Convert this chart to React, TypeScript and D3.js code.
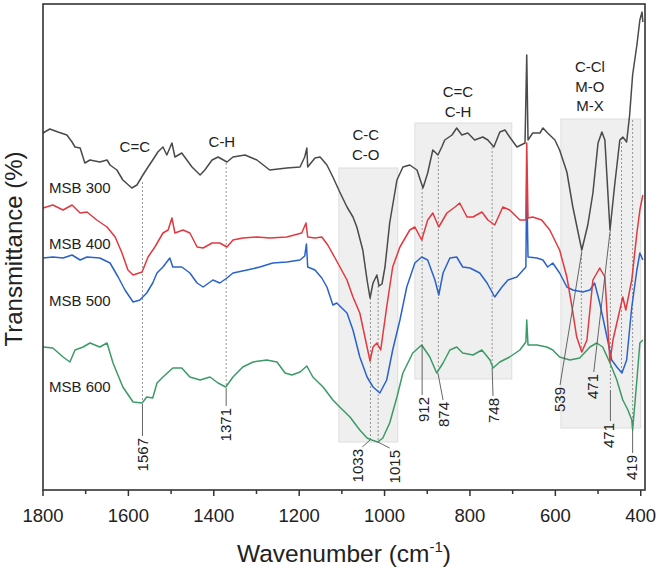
import * as d3 from 'd3';

// FTIR spectra, [wavenumber (cm-1), transmittance (a.u., offset)]
const msb300: [number, number][] = [
  [1800, 178.5], [1784, 180.5], [1765, 179], [1744, 177.5], [1732, 174], [1725, 171.5], [1713, 171],
  [1702, 163.5], [1690, 165], [1667, 164], [1650, 165], [1643, 162.5], [1627, 160], [1613, 155],
  [1592, 151], [1580, 152.5], [1566, 157.5], [1554, 161.5], [1543, 165], [1531, 169], [1519, 171.5],
  [1510, 167.5], [1498, 173.5], [1491, 166.5], [1475, 168.5], [1463, 165], [1451, 161.5], [1432, 157.5],
  [1421, 160], [1404, 165], [1390, 166.5], [1369, 164], [1355, 166.5], [1327, 167.5], [1299, 165],
  [1269, 160], [1229, 161], [1198, 161.5], [1187, 166.5], [1182, 171], [1180, 161.5], [1163, 166],
  [1151, 166.5], [1135, 162.5], [1121, 156.5], [1105, 149], [1088, 141.5], [1074, 136.5], [1065, 131.5],
  [1051, 120], [1041, 105], [1034, 96], [1027, 103.5], [1018, 107.5], [1013, 102], [1006, 103],
  [999, 111.5], [988, 133.5], [971, 155], [957, 161.5], [941, 162.5], [924, 160], [910, 151],
  [899, 158.5], [887, 170], [875, 167.5], [866, 171.5], [859, 175], [842, 177.5], [831, 181],
  [819, 177.5], [805, 178.5], [789, 175], [770, 176.5], [758, 175], [744, 171.5], [730, 179],
  [718, 180], [707, 176.5], [690, 171.5], [671, 173.5], [667, 217.5], [664, 175], [653, 178.5],
  [636, 178.5], [629, 181], [618, 178.5], [601, 175], [590, 170], [573, 159], [559, 141.5],
  [543, 125], [538, 120], [524, 132.5], [512, 148.5], [500, 173.5], [491, 179], [484, 175],
  [472, 130], [461, 152.5], [449, 175], [442, 176.5], [433, 174], [426, 187.5], [419, 207.5],
  [409, 222.5], [402, 235], [397, 239], [395, 234],
];

const msb400: [number, number][] = [
  [1800, 141], [1777, 142.5], [1753, 140], [1732, 142.5], [1713, 138.5], [1697, 139], [1674, 135],
  [1650, 131.5], [1631, 126.5], [1615, 118.5], [1601, 110], [1589, 107.5], [1568, 109], [1554, 116.5],
  [1538, 121.5], [1519, 128.5], [1507, 130], [1498, 136], [1491, 128.5], [1472, 130], [1456, 128.5],
  [1439, 121.5], [1425, 121], [1404, 123.5], [1386, 123.5], [1369, 121.5], [1355, 125], [1332, 126],
  [1299, 126.5], [1269, 126], [1229, 126.5], [1194, 128.5], [1184, 133.5], [1180, 126.5], [1163, 126],
  [1147, 126.5], [1133, 122.5], [1116, 116], [1088, 105], [1074, 96.5], [1058, 88.5], [1046, 76.5],
  [1034, 64.5], [1027, 71.5], [1018, 73.5], [1009, 70], [995, 91.5], [981, 111.5], [964, 121.5],
  [941, 130], [929, 131.5], [913, 125], [899, 135], [887, 138.5], [873, 131.5], [854, 138.5],
  [835, 141.5], [824, 143.5], [807, 136.5], [793, 136.5], [772, 139], [758, 135], [742, 132.5],
  [723, 141.5], [707, 140], [683, 135], [669, 135], [667, 173.5], [664, 136], [653, 136.5],
  [632, 135], [613, 130], [590, 120], [573, 106.5], [561, 91.5], [550, 76.5], [538, 69],
  [526, 75], [512, 105], [496, 111], [484, 106.5], [472, 64], [465, 75], [449, 90], [442, 96.5],
  [435, 90], [421, 105], [409, 128.5], [402, 140], [395, 147.5],
];

const msb500: [number, number][] = [
  [1800, 116], [1777, 116.5], [1753, 116], [1732, 117.5], [1713, 115], [1697, 116.5], [1667, 116],
  [1643, 113.5], [1624, 106.5], [1608, 100], [1589, 94], [1573, 95], [1557, 98.5], [1543, 103.5],
  [1533, 108.5], [1519, 111.5], [1503, 116], [1496, 111.5], [1475, 111.5], [1456, 108.5], [1439, 103.5],
  [1425, 101.5], [1402, 105], [1386, 103.5], [1369, 106], [1355, 108.5], [1322, 110], [1292, 111.5],
  [1262, 113.5], [1229, 114], [1198, 115], [1187, 117], [1183, 123], [1180, 111.5], [1163, 110],
  [1147, 106], [1135, 101.5], [1121, 92.5], [1112, 93.5], [1088, 88.5], [1074, 80], [1058, 66.5],
  [1041, 56.5], [1027, 51.5], [1011, 48.5], [995, 55], [981, 70], [964, 85], [948, 101.5],
  [929, 113.5], [913, 116.5], [899, 115], [882, 105], [873, 97.5], [863, 108.5], [847, 116],
  [831, 116.5], [817, 111.5], [800, 111], [777, 108.5], [760, 103.5], [742, 96.5], [725, 101.5],
  [711, 105], [690, 106.5], [669, 111.5], [667, 155], [664, 116.5], [643, 116], [629, 115],
  [618, 111.5], [606, 113.5], [590, 108.5], [573, 101.5], [559, 100], [536, 99], [519, 100],
  [508, 103.5], [496, 93.5], [479, 76.5], [468, 65], [456, 61.5], [444, 58.5], [433, 65],
  [421, 91.5], [409, 110], [402, 118.5], [395, 115],
];

const msb600: [number, number][] = [
  [1800, 71.5], [1777, 71], [1753, 66.5], [1737, 64], [1725, 70], [1706, 71.5], [1690, 73.5],
  [1667, 71.5], [1650, 73.5], [1636, 63.5], [1613, 51.5], [1589, 44], [1568, 43.5], [1557, 46.5],
  [1543, 46], [1533, 53.5], [1519, 56.5], [1496, 61], [1475, 61], [1456, 56.5], [1432, 55],
  [1409, 56.5], [1390, 53.5], [1372, 51.5], [1355, 56.5], [1332, 61.5], [1308, 64], [1276, 65],
  [1252, 64], [1233, 58.5], [1217, 57.5], [1198, 59], [1182, 62], [1168, 56.5], [1144, 51.5],
  [1121, 45], [1105, 41.5], [1081, 36.5], [1058, 30], [1041, 26], [1030, 25], [1016, 24],
  [1004, 26], [988, 33.5], [971, 46.5], [957, 58.5], [934, 68.5], [913, 72.5], [894, 66.5],
  [878, 58.5], [863, 63.5], [847, 70], [831, 71.5], [817, 68.5], [793, 67.5], [772, 70],
  [753, 65], [746, 61], [730, 64], [707, 66.5], [683, 70], [669, 74], [667, 85], [664, 72.5],
  [643, 72.5], [620, 71.5], [606, 70], [590, 66.5], [566, 65], [543, 66], [519, 71.5],
  [503, 73.5], [489, 71.5], [472, 63.5], [456, 55], [442, 45], [430, 40], [421, 35], [419, 30],
  [409, 55], [402, 73.5], [395, 75],
];

const seriesNames = ['MSB 300', 'MSB 400', 'MSB 500', 'MSB 600'];
const seriesColors = ['#4a4a4a', '#e2383f', '#2a62c9', '#3c9a67'];
const seriesData = [msb300, msb400, msb500, msb600];
// where each name sits: [wavenumber, transmittance]
const seriesLabelAt: [number, number][] = [[1786, 151], [1786, 123], [1786, 94.5], [1786, 51.5]];

// shaded regions: [from, to, top, bottom]
const regions: [number, number, number, number][] = [
  [1107, 969, 161, 24],
  [929, 702, 183.5, 55.5],
  [587, 400, 185.5, 31],
];

// group labels: lines, wavenumber, transmittance of first line
const groupLines: string[][] = [['C=C'], ['C-H'], ['C-C', 'C-O'], ['C=C', 'C-H'], ['C-Cl', 'M-O', 'M-X']];
const groupAt: [number, number][] = [[1585, 171.5], [1381, 174], [1044, 177.5], [828, 199], [519, 211.5]];

// dotted guide lines: [wavenumber, top, bottom]
const guides: [number, number, number][] = [
  [1567, 154, 43.5], [1371, 163.5, 51.5], [1033, 96, 25], [1015, 102, 24],
  [912, 151, 72.5], [874, 166.5, 58.5], [748, 171.5, 61], [539, 120, 69],
  [471, 130, 50], [445, 176, 58.5], [419, 185, 30],
];

// peak labels: text, leader [wn0, t0] -> [wn1, t1], text sits at the end of the leader
const peakText = ['1567', '1371', '1033', '1015', '912', '874', '748', '539', '471', '471', '419'];
const peakLeaders: [number, number, number, number][] = [
  [1567, 43, 1567, 27], [1371, 51, 1371, 42], [1034, 25, 1052, 21.5], [1016, 24, 988, 21],
  [912, 72.5, 912, 47.5], [875, 58.5, 863, 45], [748, 61, 746, 47], [538, 119, 589, 52.5],
  [472, 129, 510, 59], [471, 50, 471, 34.5], [419, 30, 419, 18.5],
];
const peakTextWn = [1566, 1371, 1062, 976, 908, 861, 744, 589, 512, 474, 421];

const xTicks = [1800, 1600, 1400, 1200, 1000, 800, 600, 400];
const xMinor = [1700, 1500, 1300, 1100, 900, 700, 500];

const W = 662;
const H = 575;
const font = '"Liberation Sans", Arial, Helvetica, sans-serif';

export default function App() {
  const x = d3.scaleLinear().domain([1800, 390]).range([43, 645]);
  const y = d3.scaleLinear().domain([0, 243]).range([490, 4]);
  const line = d3.line<[number, number]>().x(d => x(d[0])).y(d => y(d[1]));

  return (
    <svg width={W} height={H} style={{ position: 'absolute', left: 0, top: 0, background: '#fff' }} fontFamily={font}>
      {regions.map(([a, b, t, bt], i) => (
        <rect key={i} x={x(a)} y={y(t)} width={x(b) - x(a)} height={y(bt) - y(t)}
          fill="#efefef" stroke="#dedede" strokeWidth={1} />
      ))}

      {guides.map(([wn, t0, t1], i) => (
        <line key={i} x1={x(wn)} x2={x(wn)} y1={y(t0)} y2={y(t1)}
          stroke="#8a8a8a" strokeWidth={0.9} strokeDasharray="2,2" />
      ))}

      {[3, 2, 1, 0].map(i => (
        <path key={i} d={line(seriesData[i]) || ''} fill="none" stroke={seriesColors[i]}
          strokeWidth={1.5} strokeLinejoin="round" />
      ))}

      {seriesNames.map((n, i) => (
        <text key={n} x={x(seriesLabelAt[i][0])} y={y(seriesLabelAt[i][1])} dy="0.35em"
          fontSize={15} fill="#222">{n}</text>
      ))}

      {groupLines.map((lines, i) => (
        <text key={i} textAnchor="middle" fontSize={15} fill="#222">
          {lines.map((l, j) => (
            <tspan key={j} x={x(groupAt[i][0])} y={y(groupAt[i][1]) + j * 19.5} dy="0.35em">{l}</tspan>
          ))}
        </text>
      ))}

      {peakLeaders.map(([a, t0, b, t1], i) => (
        <g key={i}>
          <line x1={x(a)} y1={y(t0)} x2={x(b)} y2={y(t1)} stroke="#555" strokeWidth={0.9} />
          <text transform={`translate(${x(peakTextWn[i])},${y(t1) + 2}) rotate(-90)`} textAnchor="end"
            dy="0.35em" fontSize={15} fill="#222">{peakText[i]}</text>
        </g>
      ))}

      {/* frame */}
      <rect x={43} y={4} width={602} height={486} fill="none" stroke="#333" strokeWidth={1.6} />

      {xTicks.map(t => (
        <g key={t}>
          <line x1={x(t)} x2={x(t)} y1={490} y2={496} stroke="#333" strokeWidth={1.5} />
          <text x={x(t)} y={522} textAnchor="middle" fontSize={18.5} fill="#222">{t}</text>
        </g>
      ))}
      {xMinor.map(t => (
        <line key={t} x1={x(t)} x2={x(t)} y1={490} y2={494} stroke="#333" strokeWidth={1.5} />
      ))}

      <text x={344} y={562} textAnchor="middle" fontSize={24.5} fill="#222">
        Wavenumber (cm<tspan fontSize={15} dy={-10}>-1</tspan><tspan dy={10}>)</tspan>
      </text>
      <text transform="translate(14,249) rotate(-90)" textAnchor="middle" dy="0.35em" fontSize={24} fill="#222">
        Transmittance (%)
      </text>
    </svg>
  );
}
